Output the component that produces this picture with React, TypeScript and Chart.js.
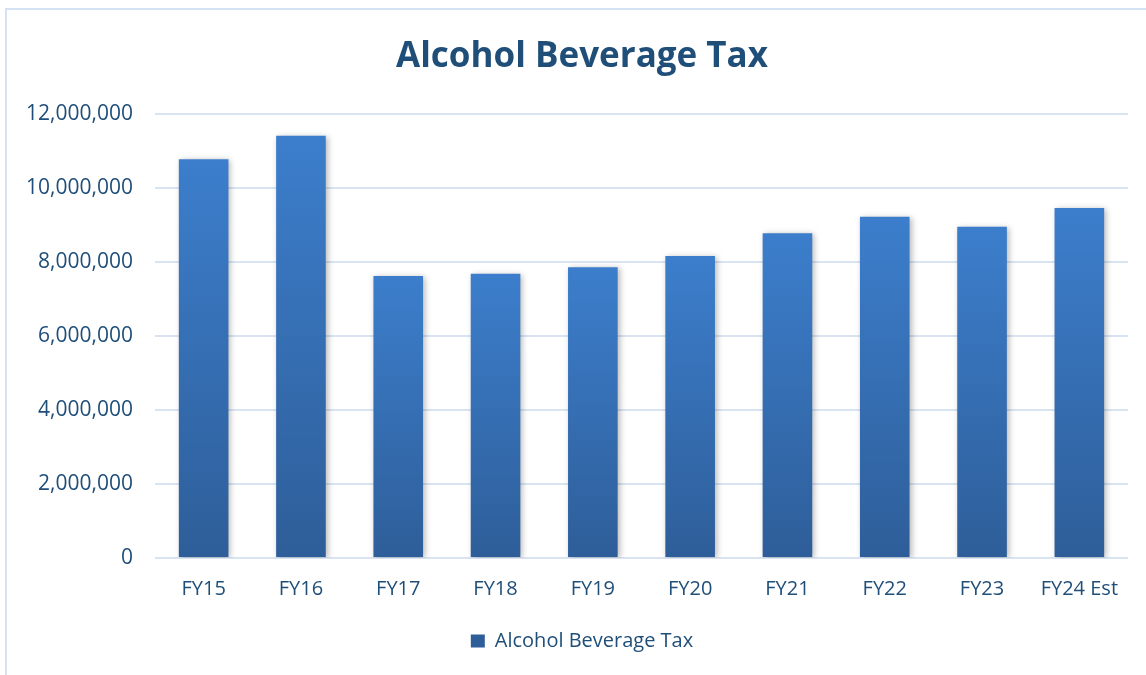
import React, { useEffect, useRef } from "react";
import { Chart, registerables } from "chart.js";

Chart.register(...registerables);

const categories = ["FY15", "FY16", "FY17", "FY18", "FY19", "FY20", "FY21", "FY22", "FY23", "FY24 Est"];
const seriesName = "Alcohol Beverage Tax";
const seriesValues = [10780000, 11410000, 7620000, 7680000, 7860000, 8160000, 8780000, 9220000, 8950000, 9460000];
const yTicks = [0, 2000000, 4000000, 6000000, 8000000, 10000000, 12000000];
const titleText = "Alcohol Beverage Tax";

const FONT = "'Open Sans', Lato, sans-serif";
const TEXT = "#1F4E79";
const GRID = "#D9E4F2";

export default function App() {
  const ref = useRef<HTMLCanvasElement | null>(null);

  useEffect(() => {
    if (!ref.current) return;
    const shadow = {
      id: "barShadow",
      beforeDatasetsDraw(chart: any) {
        const c = chart.ctx;
        c.save();
        c.shadowColor = "rgba(0,0,0,0.28)";
        c.shadowBlur = 6;
        c.shadowOffsetX = 2;
        c.shadowOffsetY = 1;
      },
      afterDatasetsDraw(chart: any) {
        chart.ctx.restore();
      },
    };
    const chart = new Chart(ref.current, {
      type: "bar",
      data: {
        labels: categories,
        datasets: [
          {
            label: seriesName,
            data: seriesValues,
            backgroundColor: (ctx: any) => {
              const ch = ctx.chart;
              if (!ch.chartArea || ctx.type !== "data" || ctx.dataIndex === undefined) return "#3670BA";
              const ys = ch.scales.y;
              const top = ys.getPixelForValue(ctx.raw);
              const bottom = ys.getPixelForValue(0);
              const g = ch.ctx.createLinearGradient(0, top, 0, bottom);
              g.addColorStop(0, "#3C7ECC");
              g.addColorStop(1, "#2E5E99");
              return g;
            },
            borderWidth: 0,
            categoryPercentage: 1,
            barPercentage: 0.51,
          },
        ],
      },
      options: {
        animation: false,
        responsive: false,
        maintainAspectRatio: false,
        layout: { padding: { left: 20, right: 2, top: 0, bottom: 14 } },
        plugins: {
          title: {
            display: true,
            text: titleText,
            color: TEXT,
            font: { family: FONT, size: 35, weight: "bold" },
            padding: { top: 36.5, bottom: 35.5 },
          },
          legend: {
            display: true,
            position: "bottom",
            labels: {
              color: TEXT,
              font: { family: FONT, size: 20 },
              boxWidth: 14,
              boxHeight: 13,
              padding: 9,
            },
          },
          tooltip: { enabled: false },
        },
        scales: {
          x: {
            grid: { display: false, drawTicks: false },
            border: { display: false },
            afterFit: (s: any) => {
              s.height = 64;
            },
            ticks: {
              color: TEXT,
              font: { family: FONT, size: 20 },
              padding: 19,
              autoSkip: false,
              maxRotation: 0,
            },
          },
          y: {
            min: 0,
            max: 12000000,
            afterFit: (s: any) => {
              s.width = 135;
            },
            afterBuildTicks: (s: any) => {
              s.ticks = yTicks.map((v) => ({ value: v }));
            },
            grid: { color: GRID, lineWidth: 2, drawTicks: false },
            border: { display: false },
            ticks: {
              color: TEXT,
              font: { family: FONT, size: 21 },
              padding: 22,
              callback: (v: any) => Number(v).toLocaleString("en-US"),
            },
          },
          y2: {
            position: "right",
            display: true,
            grid: { display: false, drawTicks: false },
            border: { display: false },
            ticks: { display: false },
            afterFit: (s: any) => {
              s.width = 16;
            },
          },
        },
      },
      plugins: [shadow],
    } as any);
    return () => chart.destroy();
  }, []);

  return (
    <div style={{ position: "fixed", left: 0, top: 0, width: 1146, height: 675, overflow: "hidden", background: "#fff" }}>
      <div
        style={{
          position: "absolute",
          left: 5,
          top: 8,
          width: 1200,
          height: 720,
          border: "2px solid #D5E2F3",
          boxSizing: "border-box",
        }}
      />
      <canvas
        ref={ref}
        width={1146}
        height={675}
        style={{ position: "absolute", left: 0, top: 0, width: 1146, height: 675 }}
      />
    </div>
  );
}
